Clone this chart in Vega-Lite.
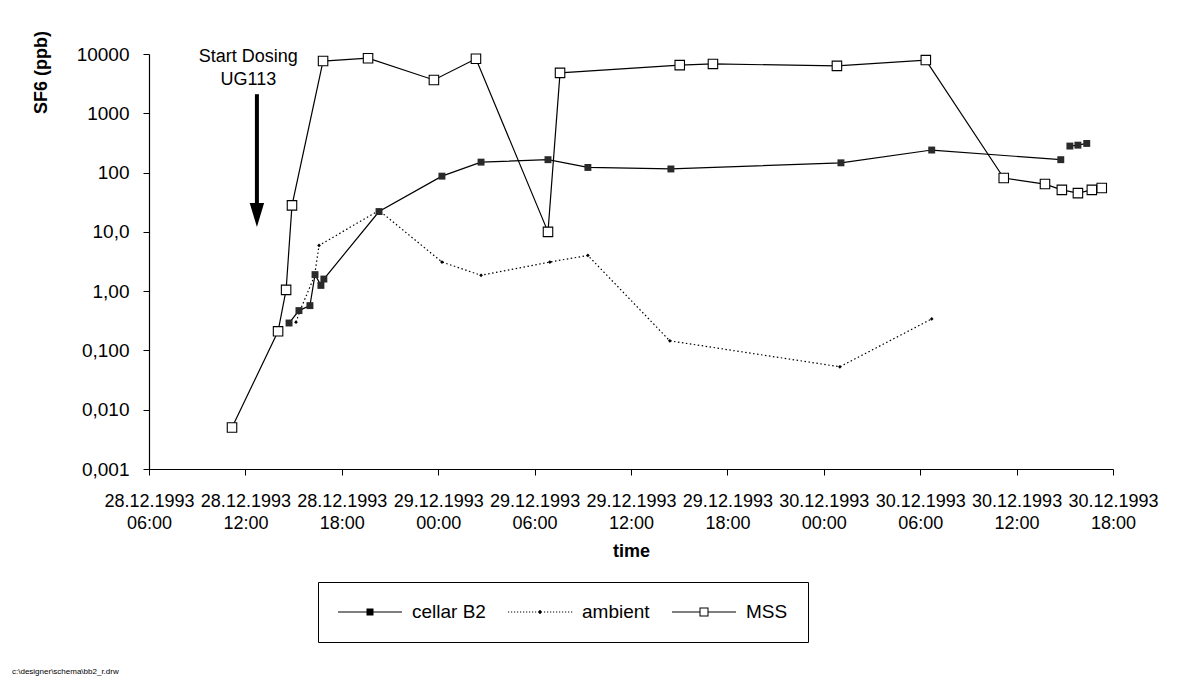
{
  "$schema": "https://vega.github.io/schema/vega-lite/v6.json",
  "width": 964,
  "height": 415,
  "autosize": {"type": "none"},
  "padding": {"left": 149, "top": 54, "right": 79, "bottom": 215},
  "background": "white",
  "config": {
    "font": "Liberation Sans",
    "view": {"stroke": null},
    "axis": {
      "domainColor": "black",
      "domainWidth": 1.2,
      "tickColor": "black",
      "tickSize": 6,
      "grid": false,
      "labelColor": "black",
      "titleColor": "black",
      "labelFont": "Liberation Sans",
      "titleFont": "Liberation Sans"
    }
  },
  "title": {
    "text": "c:\\designer\\schema\\bb2_r.drw",
    "orient": "bottom",
    "anchor": "start",
    "frame": "bounds",
    "fontSize": 8,
    "fontWeight": "normal",
    "color": "black",
    "offset": 25,
    "dx": -20
  },
  "data": {
    "values": [
      {"series": "MSS", "seg": "a", "time": "1993-12-28T11:10:00Z", "value": 0.005},
      {"series": "MSS", "seg": "a", "time": "1993-12-28T14:02:00Z", "value": 0.21},
      {"series": "MSS", "seg": "a", "time": "1993-12-28T14:32:00Z", "value": 1.05},
      {"series": "MSS", "seg": "a", "time": "1993-12-28T14:54:00Z", "value": 28},
      {"series": "MSS", "seg": "a", "time": "1993-12-28T16:50:00Z", "value": 7600},
      {"series": "MSS", "seg": "a", "time": "1993-12-28T19:38:00Z", "value": 8500},
      {"series": "MSS", "seg": "a", "time": "1993-12-28T23:44:00Z", "value": 3650},
      {"series": "MSS", "seg": "a", "time": "1993-12-29T02:21:00Z", "value": 8300},
      {"series": "MSS", "seg": "a", "time": "1993-12-29T06:50:00Z", "value": 10},
      {"series": "MSS", "seg": "a", "time": "1993-12-29T07:35:00Z", "value": 4800},
      {"series": "MSS", "seg": "a", "time": "1993-12-29T15:02:00Z", "value": 6500},
      {"series": "MSS", "seg": "a", "time": "1993-12-29T17:06:00Z", "value": 6800},
      {"series": "MSS", "seg": "a", "time": "1993-12-30T00:49:00Z", "value": 6300},
      {"series": "MSS", "seg": "a", "time": "1993-12-30T06:21:00Z", "value": 7900},
      {"series": "MSS", "seg": "a", "time": "1993-12-30T11:12:00Z", "value": 81},
      {"series": "MSS", "seg": "a", "time": "1993-12-30T13:46:00Z", "value": 64},
      {"series": "MSS", "seg": "a", "time": "1993-12-30T14:49:00Z", "value": 51},
      {"series": "MSS", "seg": "a", "time": "1993-12-30T15:49:00Z", "value": 45},
      {"series": "MSS", "seg": "a", "time": "1993-12-30T16:41:00Z", "value": 51},
      {"series": "MSS", "seg": "a", "time": "1993-12-30T17:18:00Z", "value": 55},
      {"series": "cellar B2", "seg": "a", "time": "1993-12-28T14:43:00Z", "value": 0.29},
      {"series": "cellar B2", "seg": "a", "time": "1993-12-28T15:20:00Z", "value": 0.47},
      {"series": "cellar B2", "seg": "a", "time": "1993-12-28T16:01:00Z", "value": 0.57},
      {"series": "cellar B2", "seg": "a", "time": "1993-12-28T16:20:00Z", "value": 1.9},
      {"series": "cellar B2", "seg": "a", "time": "1993-12-28T16:42:00Z", "value": 1.25},
      {"series": "cellar B2", "seg": "a", "time": "1993-12-28T16:53:00Z", "value": 1.6},
      {"series": "cellar B2", "seg": "a", "time": "1993-12-28T20:19:00Z", "value": 22},
      {"series": "cellar B2", "seg": "a", "time": "1993-12-29T00:14:00Z", "value": 87},
      {"series": "cellar B2", "seg": "a", "time": "1993-12-29T02:40:00Z", "value": 150},
      {"series": "cellar B2", "seg": "a", "time": "1993-12-29T06:50:00Z", "value": 165},
      {"series": "cellar B2", "seg": "a", "time": "1993-12-29T09:19:00Z", "value": 122},
      {"series": "cellar B2", "seg": "a", "time": "1993-12-29T14:29:00Z", "value": 115},
      {"series": "cellar B2", "seg": "a", "time": "1993-12-30T01:04:00Z", "value": 146},
      {"series": "cellar B2", "seg": "a", "time": "1993-12-30T06:43:00Z", "value": 240},
      {"series": "cellar B2", "seg": "a", "time": "1993-12-30T14:45:00Z", "value": 165},
      {"series": "cellar B2", "seg": "b", "time": "1993-12-30T15:19:00Z", "value": 280},
      {"series": "cellar B2", "seg": "b", "time": "1993-12-30T15:49:00Z", "value": 290},
      {"series": "cellar B2", "seg": "b", "time": "1993-12-30T16:22:00Z", "value": 310},
      {"series": "ambient", "seg": "a", "time": "1993-12-28T15:09:00Z", "value": 0.3},
      {"series": "ambient", "seg": "a", "time": "1993-12-28T15:25:00Z", "value": 0.48},
      {"series": "ambient", "seg": "a", "time": "1993-12-28T16:18:00Z", "value": 1.8},
      {"series": "ambient", "seg": "a", "time": "1993-12-28T16:35:00Z", "value": 5.9},
      {"series": "ambient", "seg": "a", "time": "1993-12-28T20:19:00Z", "value": 23},
      {"series": "ambient", "seg": "a", "time": "1993-12-29T00:14:00Z", "value": 3.1},
      {"series": "ambient", "seg": "a", "time": "1993-12-29T02:40:00Z", "value": 1.85},
      {"series": "ambient", "seg": "a", "time": "1993-12-29T06:57:00Z", "value": 3.1},
      {"series": "ambient", "seg": "a", "time": "1993-12-29T09:19:00Z", "value": 4.0},
      {"series": "ambient", "seg": "a", "time": "1993-12-29T14:25:00Z", "value": 0.145},
      {"series": "ambient", "seg": "a", "time": "1993-12-30T01:00:00Z", "value": 0.053},
      {"series": "ambient", "seg": "a", "time": "1993-12-30T06:43:00Z", "value": 0.34}
    ]
  },
  "layer": [
    {
      "transform": [{"filter": "datum.series === 'cellar B2'"}],
      "mark": {"type": "line", "color": "black", "strokeWidth": 1.2},
      "encoding": {
        "x": {
          "field": "time",
          "type": "temporal",
          "scale": {
            "type": "utc",
            "domain": [
              {"year": 1993, "month": 12, "date": 28, "hours": 6, "utc": true},
              {"year": 1993, "month": 12, "date": 30, "hours": 18, "utc": true}
            ]
          },
          "axis": {
            "title": "time",
            "titleFontSize": 18,
            "titleFontWeight": "bold",
            "titlePadding": 10,
            "labelFontSize": 18,
            "labelPadding": 17,
            "labelLineHeight": 22,
            "labelBaseline": "top",
            "labelOverlap": false,
            "labelFlush": false,
            "values": [
              {"year": 1993, "month": 12, "date": 28, "hours": 6, "utc": true},
              {"year": 1993, "month": 12, "date": 28, "hours": 12, "utc": true},
              {"year": 1993, "month": 12, "date": 28, "hours": 18, "utc": true},
              {"year": 1993, "month": 12, "date": 29, "hours": 0, "utc": true},
              {"year": 1993, "month": 12, "date": 29, "hours": 6, "utc": true},
              {"year": 1993, "month": 12, "date": 29, "hours": 12, "utc": true},
              {"year": 1993, "month": 12, "date": 29, "hours": 18, "utc": true},
              {"year": 1993, "month": 12, "date": 30, "hours": 0, "utc": true},
              {"year": 1993, "month": 12, "date": 30, "hours": 6, "utc": true},
              {"year": 1993, "month": 12, "date": 30, "hours": 12, "utc": true},
              {"year": 1993, "month": 12, "date": 30, "hours": 18, "utc": true}
            ],
            "labelExpr": "[utcFormat(datum.value, '%d.%m.%Y'), utcFormat(datum.value, '%H:%M')]"
          }
        },
        "y": {
          "field": "value",
          "type": "quantitative",
          "scale": {"type": "log", "domain": [0.001, 10000], "nice": false},
          "axis": {
            "title": "SF6 (ppb)",
            "titleFontSize": 18,
            "titleFontWeight": "bold",
            "titleX": -108,
            "titleY": 18,
            "titleAlign": "center",
            "titleBaseline": "middle",
            "titleAngle": 270,
            "labelFontSize": 19,
            "labelPadding": 14,
            "labelOverlap": false,
            "labelFlush": false,
            "values": [0.001, 0.01, 0.1, 1, 10, 100, 1000, 10000],
            "labelExpr": "replace(datum.value >= 100 ? format(datum.value, 'd') : datum.value >= 10 ? format(datum.value, '.1f') : datum.value >= 1 ? format(datum.value, '.2f') : format(datum.value, '.3f'), '.', ',')"
          }
        },
        "detail": {"field": "seg"}
      }
    },
    {
      "transform": [{"filter": "datum.series === 'ambient'"}],
      "mark": {"type": "line", "color": "black", "strokeWidth": 1.2, "strokeDash": [1.5, 2.5]},
      "encoding": {
        "x": {"field": "time", "type": "temporal"},
        "y": {"field": "value", "type": "quantitative"}
      }
    },
    {
      "transform": [{"filter": "datum.series === 'MSS'"}],
      "mark": {"type": "line", "color": "black", "strokeWidth": 1.2},
      "encoding": {
        "x": {"field": "time", "type": "temporal"},
        "y": {"field": "value", "type": "quantitative"}
      }
    },
    {
      "transform": [{"filter": "datum.series === 'ambient'"}],
      "mark": {"type": "point", "shape": "diamond", "filled": true, "color": "black", "size": 14, "opacity": 1},
      "encoding": {
        "x": {"field": "time", "type": "temporal"},
        "y": {"field": "value", "type": "quantitative"}
      }
    },
    {
      "transform": [{"filter": "datum.series === 'cellar B2'"}],
      "mark": {"type": "point", "shape": "square", "filled": true, "color": "#2a2a2a", "size": 48, "opacity": 1},
      "encoding": {
        "x": {"field": "time", "type": "temporal"},
        "y": {"field": "value", "type": "quantitative"}
      }
    },
    {
      "transform": [{"filter": "datum.series === 'MSS'"}],
      "mark": {"type": "square", "filled": false, "color": "black", "fill": "white", "fillOpacity": 1, "strokeWidth": 1.1, "size": 90, "opacity": 1},
      "encoding": {
        "x": {"field": "time", "type": "temporal"},
        "y": {"field": "value", "type": "quantitative"}
      }
    },
    {
      "transform": [{"filter": "false"}],
      "mark": {"type": "point", "filled": true, "color": "black", "opacity": 1},
      "encoding": {
        "x": {"field": "time", "type": "temporal"},
        "y": {"field": "value", "type": "quantitative"},
        "shape": {
          "field": "series",
          "type": "nominal",
          "scale": {
            "domain": ["cellar B2", "ambient", "MSS"],
            "range": [
              "M-1,-0.06L5.4,-0.06L5.4,0.06L-1,0.06ZM1.85,-0.35L2.55,-0.35L2.55,0.35L1.85,0.35Z",
              "M-1,-0.06L-0.88,-0.06L-0.88,0.06L-1,0.06ZM-0.7,-0.06L-0.58,-0.06L-0.58,0.06L-0.7,0.06ZM-0.4,-0.06L-0.28,-0.06L-0.28,0.06L-0.4,0.06ZM-0.1,-0.06L0.02,-0.06L0.02,0.06L-0.1,0.06ZM0.2,-0.06L0.32,-0.06L0.32,0.06L0.2,0.06ZM0.5,-0.06L0.62,-0.06L0.62,0.06L0.5,0.06ZM0.8,-0.06L0.92,-0.06L0.92,0.06L0.8,0.06ZM1.1,-0.06L1.22,-0.06L1.22,0.06L1.1,0.06ZM1.4,-0.06L1.52,-0.06L1.52,0.06L1.4,0.06ZM1.7,-0.06L1.82,-0.06L1.82,0.06L1.7,0.06ZM2.6,-0.06L2.72,-0.06L2.72,0.06L2.6,0.06ZM2.9,-0.06L3.02,-0.06L3.02,0.06L2.9,0.06ZM3.2,-0.06L3.32,-0.06L3.32,0.06L3.2,0.06ZM3.5,-0.06L3.62,-0.06L3.62,0.06L3.5,0.06ZM3.8,-0.06L3.92,-0.06L3.92,0.06L3.8,0.06ZM4.1,-0.06L4.22,-0.06L4.22,0.06L4.1,0.06ZM4.4,-0.06L4.52,-0.06L4.52,0.06L4.4,0.06ZM4.7,-0.06L4.82,-0.06L4.82,0.06L4.7,0.06ZM5,-0.06L5.12,-0.06L5.12,0.06L5,0.06ZM5.3,-0.06L5.42,-0.06L5.42,0.06L5.3,0.06ZM2.2,-0.22L2.42,0L2.2,0.22L1.98,0Z",
              "M-1,-0.06L1.75,-0.06L1.75,0.06L-1,0.06ZM2.65,-0.06L5.4,-0.06L5.4,0.06L2.65,0.06ZM1.75,-0.45L2.65,-0.45L2.65,0.45L1.75,0.45ZM1.85,-0.35L1.85,0.35L2.55,0.35L2.55,-0.35Z"
            ]
          },
          "legend": {
            "orient": "none",
            "legendX": 169,
            "legendY": 528,
            "direction": "horizontal",
            "title": null,
            "strokeColor": "black",
            "padding": 20,
            "symbolSize": 400,
            "labelOffset": 54,
            "columnPadding": 22,
            "labelFontSize": 19,
            "labelFont": "Liberation Sans",
            "labelColor": "black",
            "symbolStrokeWidth": 0,
            "symbolFillColor": "black",
            "symbolOpacity": 1
          }
        }
      }
    },
    {
      "data": {"values": [{"time": "1993-12-28T12:43:00Z", "top": 2100, "bottom": 28}]},
      "mark": {"type": "rule", "color": "black", "strokeWidth": 4},
      "encoding": {
        "x": {"field": "time", "type": "temporal"},
        "y": {"field": "top", "type": "quantitative"},
        "y2": {"field": "bottom"}
      }
    },
    {
      "data": {"values": [{"time": "1993-12-28T12:43:00Z", "head": 19.3}]},
      "mark": {"type": "point", "shape": "M-0.6,-1L0.6,-1L0,1Z", "size": 576, "filled": true, "color": "black", "opacity": 1},
      "encoding": {
        "x": {"field": "time", "type": "temporal"},
        "y": {"field": "head", "type": "quantitative"}
      }
    },
    {
      "data": {"values": [{"time": "1993-12-28T12:11:00Z", "value": 8900, "label": "Start Dosing\nUG113"}]},
      "mark": {"type": "text", "fontSize": 18, "font": "Liberation Sans", "color": "black", "align": "center", "baseline": "middle", "lineBreak": "\n", "lineHeight": 23},
      "encoding": {
        "x": {"field": "time", "type": "temporal"},
        "y": {"field": "value", "type": "quantitative"},
        "text": {"field": "label"}
      }
    }
  ]
}
